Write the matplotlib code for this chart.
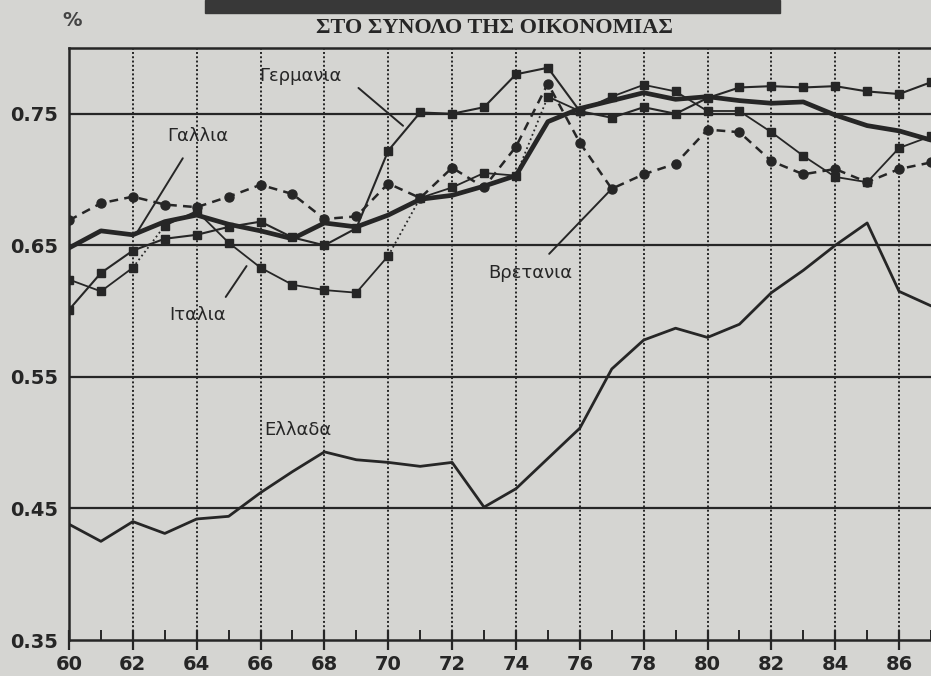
import matplotlib
matplotlib.use("Agg")
import matplotlib.pyplot as plt
from matplotlib.patches import Rectangle

# years 1960..1987
years = list(range(60, 88))

germany = [0.601, 0.629, 0.646, 0.655, 0.658, 0.664, 0.668, 0.656, 0.650, 0.663,
           0.722, 0.751, 0.750, 0.755, 0.780, 0.785, 0.752, 0.747, 0.755, 0.750,
           0.762, 0.770, 0.771, 0.770, 0.771, 0.767, 0.765, 0.774]
italy = [0.624, 0.615, 0.633, 0.665, 0.676, 0.652, 0.633, 0.620, 0.616, 0.614,
         0.642, 0.686, 0.694, 0.705, 0.703, 0.763, 0.752, 0.763, 0.772, 0.767,
         0.752, 0.752, 0.736, 0.718, 0.702, 0.698, 0.724, 0.733]
britain = [0.669, 0.682, 0.687, 0.681, 0.679, 0.687, 0.696, 0.689, 0.670, 0.672,
           0.697, 0.686, 0.709, 0.694, 0.725, 0.773, 0.728, 0.693, 0.704, 0.712,
           0.738, 0.736, 0.714, 0.704, 0.708, 0.698, 0.708, 0.713]
thick = [0.648, 0.661, 0.658, 0.668, 0.673, 0.666, 0.661, 0.655, 0.667, 0.664,
         0.673, 0.685, 0.688, 0.695, 0.703, 0.744, 0.754, 0.760, 0.766, 0.761,
         0.763, 0.760, 0.758, 0.759, 0.749, 0.741, 0.737, 0.730]
greece = [0.438, 0.425, 0.440, 0.431, 0.442, 0.444, 0.462, 0.478, 0.493, 0.487,
          0.485, 0.482, 0.485, 0.451, 0.465, 0.488, 0.511, 0.556, 0.578, 0.587,
          0.580, 0.590, 0.614, 0.631, 0.650, 0.667, 0.615, 0.604]

yticks = [0.35, 0.45, 0.55, 0.65, 0.75]
xticks = list(range(60, 88, 2))

ink = '#262626'
paper = '#d5d5d2'

fig = plt.figure(figsize=(9.31, 6.76), dpi=100, facecolor=paper)
ax = fig.add_axes([69/931, 36/676, 1 - 69/931, 592/676])
ax.set_facecolor(paper)
ax.set_xlim(60, 60 + 862/32.1)
ax.set_ylim(0.35, 0.80)

# grid
for v in yticks[1:]:
    ax.axhline(v, color=ink, lw=1.6, zorder=1)
for x in xticks[1:]:
    ax.axvline(x, color=ink, lw=1.4, ls=(0, (1, 1.2)), zorder=1)

# series
ax.plot(years, greece, color=ink, lw=2.0, zorder=3)
ax.plot(years, thick, color=ink, lw=3.4, zorder=4, solid_capstyle='round')
ax.plot(years, germany, color=ink, lw=1.5, marker='s', ms=6, zorder=5)
ax.plot(years, britain, color=ink, lw=1.8, ls=(0, (3.5, 2.5)), marker='o', ms=6.5, zorder=5)
# italy: dot-matrix line, gaps show on the steep segments only
for i in range(len(years) - 1):
    dy = (italy[i+1] - italy[i]) * 1317 / 32.1
    style = ':' if abs(dy) > 1.2 else '-'
    ax.plot(years[i:i+2], italy[i:i+2], color=ink, lw=1.3, ls=style, zorder=5)
ax.plot(years, italy, ls='none', marker='s', ms=6, color=ink, zorder=5)

# axes look
for s in ['left', 'top', 'bottom']:
    ax.spines[s].set_linewidth(1.8)
    ax.spines[s].set_color(ink)
ax.spines['right'].set_visible(False)

ax.set_xticks(xticks)
ax.set_xticks(list(range(61, 88, 2)), minor=True)
ax.set_yticks(yticks)
ax.set_xticklabels([str(x) for x in xticks])
ax.set_yticklabels(['%.2f' % v for v in yticks])
ax.tick_params(axis='x', which='major', direction='inout', length=14, width=1.6,
               color=ink, pad=4, labelsize=14)
ax.tick_params(axis='x', which='minor', direction='in', length=7, width=1.4, color=ink)
ax.tick_params(axis='y', length=0, pad=8, labelsize=14)
for lab in ax.get_xticklabels() + ax.get_yticklabels():
    lab.set_fontweight('bold')
    lab.set_color(ink)
    lab.set_family('DejaVu Sans')

# country labels with pointer lines
lab_kw = dict(fontsize=13, color=ink, ha='center', va='center', family='DejaVu Sans')
line_kw = dict(arrowstyle='-', color=ink, lw=1.4)
ax.text(67.26, 0.779, 'Γερμανια', **lab_kw)
ax.annotate('', xy=(70.53, 0.7395), xytext=(69.0, 0.771), arrowprops=line_kw)
ax.text(64.05, 0.7334, 'Γαλλια', **lab_kw)
ax.annotate('', xy=(62.11, 0.659), xytext=(63.61, 0.718), arrowprops=line_kw)
ax.text(64.02, 0.5968, 'Ιταλια', **lab_kw)
ax.annotate('', xy=(65.61, 0.636), xytext=(64.86, 0.609), arrowprops=line_kw)
ax.text(74.45, 0.6287, 'Βρετανια', **lab_kw)
ax.annotate('', xy=(77.0, 0.693), xytext=(74.98, 0.642), arrowprops=line_kw)
ax.text(67.17, 0.510, 'Ελλαδα', **lab_kw)

# header
fig.patches.append(Rectangle((205/931, 1 - 13/676), 575/931, 13/676,
                             transform=fig.transFigure, color='#383838', zorder=0))
fig.text(494/931, 1 - 28/676, 'ΣΤΟ ΣΥΝΟΛΟ ΤΗΣ ΟΙΚΟΝΟΜΙΑΣ', ha='center', va='center',
         fontsize=16, fontweight='bold', family='Liberation Serif', color=ink)
fig.text(72/931, 1 - 20/676, '%', ha='center', va='center', fontsize=14,
         fontweight='bold', family='DejaVu Sans', color='#444444')

fig.savefig('out.png', dpi=100, facecolor=paper)
